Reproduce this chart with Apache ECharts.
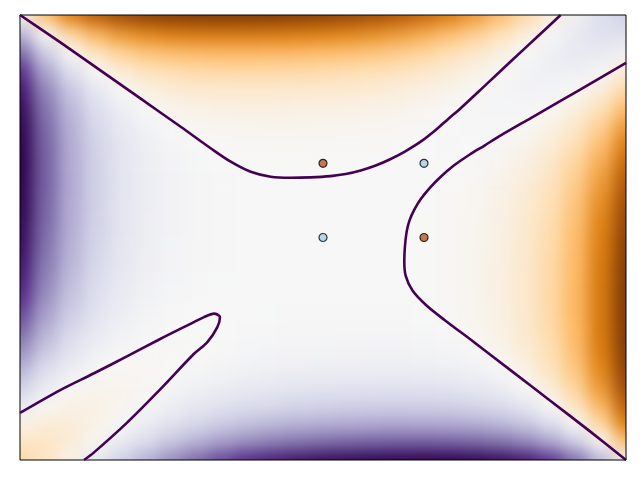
<!DOCTYPE html>
<html lang="en">
<head>
<meta charset="UTF-8">
<title>XOR decision function</title>
<script src="https://cdn.jsdelivr.net/npm/echarts/dist/echarts.min.js"></script>
<style>
    html, body { margin: 0; padding: 0; background: #fff; }
    #wrap { position: relative; width: 640px; height: 480px; }
    #clip { position: absolute; left: 20px; top: 15px; width: 606px; height: 445px; overflow: hidden; }
    #field { position: absolute; left: -40px; top: -40px; width: 686px; height: 525px; filter: blur(8px); }
    #front { position: absolute; left: 0; top: 0; width: 640px; height: 480px; }
</style>
</head>
<body>
<div id="wrap">
    <div id="clip"><div id="field"></div></div>
    <div id="front"></div>
</div>
<script>
// sample nodes of the decision function
const gridX = [-3, -2.75, -2.5, -2.25, -2, -1.75, -1.5, -1.25, -1, -0.75, -0.5, -0.25, 0,
               0.25, 0.5, 0.75, 1, 1.25, 1.5, 1.75, 2, 2.25, 2.5, 2.75, 3];
const gridY = [-3, -2.75, -2.5, -2.25, -2, -1.75, -1.5, -1.25, -1, -0.75, -0.5, -0.25, 0,
               0.25, 0.5, 0.75, 1, 1.25, 1.5, 1.75, 2, 2.25, 2.5, 2.75, 3];

// decision values, one row per gridY value (bottom row first)
const fieldRows = [
    [55.7, 37.5, 9.8, -23.0, -57.5, -91.2, -122.3, -149.7, -172.9, -191.8, -206.7, -218.0, -226.4, -232.3, -236.5, -239.0, -240.1, -239.1, -235.2, -226.7, -211.2, -185.6, -145.6, -86.0, -0.3],
    [37.5, 35.9, 22.8, 2.6, -21.0, -45.4, -68.5, -89.3, -106.9, -121.2, -132.3, -140.6, -146.6, -150.8, -153.5, -155.1, -155.4, -154.0, -149.8, -141.1, -125.6, -99.9, -59.9, -0.3, 85.4],
    [9.8, 22.8, 22.2, 12.9, -1.3, -17.7, -34.2, -49.3, -62.3, -72.9, -81.1, -87.0, -91.1, -93.9, -95.7, -96.6, -96.4, -94.7, -90.3, -81.5, -66.0, -40.3, -0.3, 59.3, 145.0],
    [-23.0, 2.6, 12.9, 13.0, 6.7, -3.0, -13.9, -24.4, -33.7, -41.3, -47.0, -51.2, -53.9, -55.7, -56.8, -57.2, -56.8, -54.8, -50.4, -41.6, -26.0, -0.3, 39.7, 99.3, 185.0],
    [-57.5, -21.0, -1.3, 6.7, 7.1, 3.0, -3.3, -10.1, -16.4, -21.6, -25.5, -28.3, -30.1, -31.2, -31.7, -31.9, -31.2, -29.2, -24.7, -15.9, -0.3, 25.4, 65.4, 125.0, 210.6],
    [-91.2, -45.4, -17.7, -3.0, 3.0, 3.5, 1.0, -2.8, -6.8, -10.1, -12.7, -14.5, -15.6, -16.2, -16.5, -16.4, -15.7, -13.7, -9.1, -0.3, 15.3, 41.0, 80.9, 140.5, 226.1],
    [-122.3, -68.5, -34.2, -13.9, -3.3, 1.0, 1.4, 0.0, -2.1, -4.1, -5.7, -6.8, -7.4, -7.7, -7.8, -7.6, -6.9, -4.8, -0.3, 8.5, 24.1, 49.8, 89.7, 149.2, 234.6],
    [-149.7, -89.3, -49.3, -24.4, -10.1, -2.8, 0.0, 0.4, -0.3, -1.4, -2.2, -2.8, -3.1, -3.3, -3.3, -3.1, -2.4, -0.3, 4.2, 13.1, 28.6, 54.2, 94.1, 153.4, 238.5],
    [-172.9, -106.9, -62.3, -33.7, -16.4, -6.8, -2.1, -0.3, -0.1, -0.4, -0.8, -1.1, -1.2, -1.3, -1.3, -1.1, -0.3, 1.8, 6.3, 15.1, 30.6, 56.2, 95.8, 154.8, 239.5],
    [-191.8, -121.2, -72.9, -41.3, -21.6, -10.1, -4.1, -1.4, -0.4, -0.2, -0.4, -0.5, -0.5, -0.5, -0.5, -0.3, 0.5, 2.5, 7.0, 15.8, 31.3, 56.6, 96.0, 154.5, 238.4],
    [-206.7, -132.3, -81.1, -47.0, -25.5, -12.7, -5.7, -2.2, -0.8, -0.4, -0.3, -0.3, -0.3, -0.3, -0.3, -0.1, 0.7, 2.7, 7.2, 15.9, 31.1, 56.2, 95.1, 152.9, 235.9],
    [-218.0, -140.6, -87.0, -51.2, -28.3, -14.5, -6.8, -2.8, -1.1, -0.5, -0.3, -0.3, -0.3, -0.3, -0.3, -0.1, 0.7, 2.7, 7.1, 15.6, 30.6, 55.1, 93.3, 150.2, 231.7],
    [-226.4, -146.6, -91.1, -53.9, -30.1, -15.6, -7.4, -3.1, -1.2, -0.5, -0.3, -0.3, -0.3, -0.3, -0.3, -0.1, 0.6, 2.5, 6.8, 15.0, 29.5, 53.3, 90.5, 146.0, 225.8],
    [-232.3, -150.8, -93.9, -55.7, -31.2, -16.2, -7.7, -3.3, -1.3, -0.5, -0.3, -0.3, -0.3, -0.3, -0.3, -0.1, 0.5, 2.2, 6.2, 13.9, 27.7, 50.6, 86.4, 140.0, 217.4],
    [-236.5, -153.5, -95.7, -56.8, -31.7, -16.5, -7.8, -3.3, -1.3, -0.5, -0.3, -0.3, -0.3, -0.3, -0.3, -0.2, 0.2, 1.6, 5.1, 12.1, 24.9, 46.4, 80.5, 131.7, 206.1],
    [-239.0, -155.1, -96.6, -57.2, -31.9, -16.4, -7.6, -3.1, -1.1, -0.3, -0.1, -0.1, -0.1, -0.1, -0.2, -0.4, -0.2, 0.8, 3.5, 9.5, 21.0, 40.7, 72.3, 120.6, 191.2],
    [-240.1, -155.4, -96.4, -56.8, -31.2, -15.7, -6.9, -2.4, -0.3, 0.5, 0.7, 0.7, 0.6, 0.5, 0.2, -0.2, -0.5, -0.3, 1.5, 6.2, 15.8, 33.1, 61.7, 106.3, 172.3],
    [-239.1, -154.0, -94.7, -54.8, -29.2, -13.7, -4.8, -0.3, 1.8, 2.5, 2.7, 2.7, 2.5, 2.2, 1.6, 0.8, -0.3, -1.0, -0.6, 2.2, 9.5, 23.8, 48.7, 88.7, 149.1],
    [-235.2, -149.8, -90.3, -50.4, -24.7, -9.1, -0.3, 4.2, 6.3, 7.0, 7.2, 7.1, 6.8, 6.2, 5.1, 3.5, 1.5, -0.6, -2.0, -1.6, 2.7, 13.3, 33.6, 67.9, 121.7],
    [-226.7, -141.1, -81.5, -41.6, -15.9, -0.3, 8.5, 13.1, 15.1, 15.8, 15.9, 15.6, 15.0, 13.9, 12.1, 9.5, 6.2, 2.2, -1.6, -4.1, -3.6, 2.4, 17.1, 44.8, 90.6],
    [-211.2, -125.6, -66.0, -26.0, -0.3, 15.3, 24.1, 28.6, 30.6, 31.3, 31.1, 30.6, 29.5, 27.7, 24.9, 21.0, 15.8, 9.5, 2.7, -3.6, -7.7, -7.3, 0.7, 20.4, 56.9],
    [-185.6, -99.9, -40.3, -0.3, 25.4, 41.0, 49.8, 54.2, 56.2, 56.6, 56.2, 55.1, 53.3, 50.6, 46.4, 40.7, 33.1, 23.8, 13.3, 2.4, -7.3, -13.6, -13.5, -3.2, 22.4],
    [-145.6, -59.9, -0.3, 39.7, 65.4, 80.9, 89.7, 94.1, 95.8, 96.0, 95.1, 93.3, 90.5, 86.4, 80.5, 72.3, 61.7, 48.7, 33.6, 17.1, 0.7, -13.5, -22.8, -23.4, -10.4],
    [-86.0, -0.3, 59.3, 99.3, 125.0, 140.5, 149.2, 153.4, 154.8, 154.5, 152.9, 150.2, 146.0, 140.0, 131.7, 120.6, 106.3, 88.7, 67.9, 44.8, 20.4, -3.2, -23.4, -36.5, -38.1],
    [-0.3, 85.4, 145.0, 185.0, 210.6, 226.1, 234.6, 238.5, 239.5, 238.4, 235.9, 231.7, 225.8, 217.4, 206.1, 191.2, 172.3, 149.1, 121.7, 90.6, 56.9, 22.4, -10.4, -38.1, -56.3]
];

// zero level of the decision function, three branches
const contourTop = [
    [-3.0, 3.0], [-2.597, 2.628], [-2.201, 2.250], [-1.805, 1.872], [-1.409, 1.493], [-1.112, 1.203],
    [-0.914, 1.022], [-0.716, 0.886], [-0.518, 0.819], [-0.320, 0.805], [-0.122, 0.811], [0.076, 0.828],
    [0.225, 0.855], [0.373, 0.903], [0.522, 0.970], [0.670, 1.058], [0.819, 1.166], [0.967, 1.292],
    [1.116, 1.450], [1.240, 1.599], [1.363, 1.743], [1.611, 2.058], [1.858, 2.373], [2.106, 2.686],
    [2.353, 3.0]
];
const contourRight = [
    [3.0, 2.353], [2.686, 2.106], [2.373, 1.858], [2.058, 1.611], [1.743, 1.363], [1.599, 1.240],
    [1.450, 1.116], [1.292, 0.967], [1.166, 0.819], [1.058, 0.670], [0.970, 0.522], [0.903, 0.373],
    [0.855, 0.225], [0.828, 0.076], [0.811, -0.122], [0.805, -0.320], [0.819, -0.518], [0.886, -0.716],
    [1.022, -0.914], [1.203, -1.112], [1.493, -1.409], [1.872, -1.805], [2.250, -2.201], [2.628, -2.597],
    [3.0, -3.0]
];
const contourLowerLeft = [
    [-3.0, -2.365], [-2.597, -2.054], [-2.267, -1.830], [-1.937, -1.600], [-1.607, -1.365], [-1.343, -1.185],
    [-1.178, -1.073], [-1.079, -1.027], [-1.020, -1.073], [-1.046, -1.208], [-1.145, -1.411], [-1.277, -1.568],
    [-1.607, -2.041], [-1.937, -2.492], [-2.267, -2.897], [-2.366, -3.0]
];

// training points
const class0Points = [[0, 0], [1, 1]];
const class1Points = [[0, 1], [1, 0]];

// PuOr_r
const puOrR = ['#2d004b', '#542788', '#8073ac', '#b2abd2', '#d8daeb', '#f7f7f7',
               '#fee0b6', '#fdb863', '#e08214', '#b35806', '#7f3b08'];

const fieldData = [];
gridY.forEach((y, j) => {
    gridX.forEach((x, i) => {
        fieldData.push([x, y, fieldRows[j][i], i, j]);
    });
});

// cell edges halfway between nodes, outer cells run past the frame
function cellEdges(arr, k) {
    const pad = 0.35;
    const lo = k === 0 ? arr[0] - pad : (arr[k - 1] + arr[k]) / 2;
    const hi = k === arr.length - 1 ? arr[k] + pad : (arr[k] + arr[k + 1]) / 2;
    return [lo, hi];
}

const fieldChart = echarts.init(document.getElementById('field'));
fieldChart.setOption({
    animation: false,
    grid: { left: 40, top: 40, width: 606, height: 445 },
    xAxis: { type: 'value', min: -3, max: 3, show: false },
    yAxis: { type: 'value', min: -3, max: 3, show: false },
    visualMap: {
        show: false,
        type: 'continuous',
        dimension: 2,
        seriesIndex: 0,
        min: -240,
        max: 240,
        inRange: { color: puOrR }
    },
    series: [{
        type: 'custom',
        clip: false,
        data: fieldData,
        encode: { x: 0, y: 1 },
        renderItem: function (params, api) {
            const ex = cellEdges(gridX, api.value(3));
            const ey = cellEdges(gridY, api.value(4));
            const p0 = api.coord([ex[0], ey[1]]);
            const p1 = api.coord([ex[1], ey[0]]);
            return {
                type: 'rect',
                shape: { x: p0[0], y: p0[1], width: p1[0] - p0[0] + 0.6, height: p1[1] - p0[1] + 0.6 },
                style: { fill: api.visual('color') }
            };
        }
    }]
});

const lineStyle = { color: '#440154', width: 2.6 };
function contourSeries(points) {
    return {
        type: 'line',
        data: points,
        showSymbol: false,
        smooth: 0.3,
        lineStyle: lineStyle,
        z: 2
    };
}

const frontChart = echarts.init(document.getElementById('front'));
frontChart.setOption({
    animation: false,
    grid: {
        left: 20, top: 15, width: 606, height: 445,
        show: true, borderColor: '#000', borderWidth: 1, backgroundColor: 'transparent'
    },
    xAxis: { type: 'value', min: -3, max: 3, show: false },
    yAxis: { type: 'value', min: -3, max: 3, show: false },
    series: [
        contourSeries(contourTop),
        contourSeries(contourRight),
        contourSeries(contourLowerLeft),
        {
            type: 'scatter',
            data: class0Points,
            symbolSize: 8,
            itemStyle: { color: '#a6cee3', borderColor: '#000', borderWidth: 1.2 },
            z: 3
        },
        {
            type: 'scatter',
            data: class1Points,
            symbolSize: 8,
            itemStyle: { color: '#b15928', borderColor: '#000', borderWidth: 1.2 },
            z: 3
        }
    ]
});
</script>
</body>
</html>
